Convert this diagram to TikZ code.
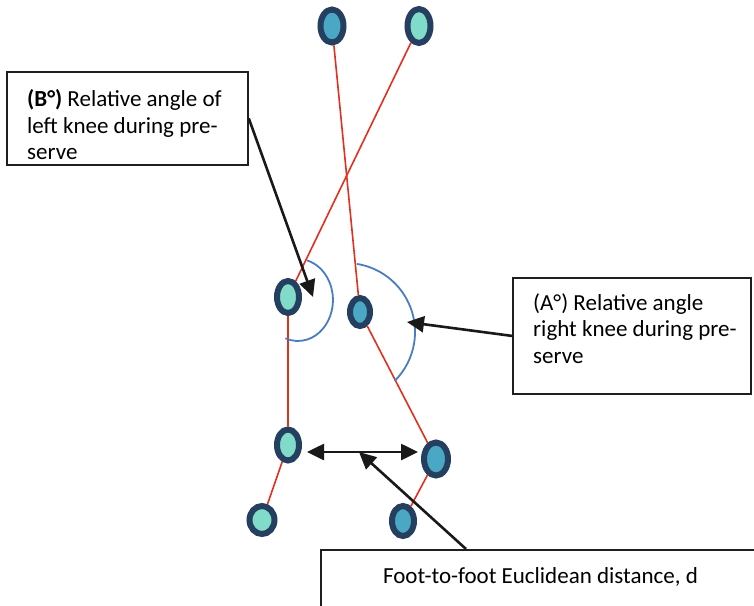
\documentclass[tikz,border=0pt]{standalone}
\usepackage{fontspec}
\setmainfont{Carlito}
\usetikzlibrary{arrows.meta, positioning, shapes.geometric}

\definecolor{jointring}{HTML}{253F61}
\definecolor{leftfill}{HTML}{80DCC8}
\definecolor{rightfill}{HTML}{4AA8C4}
\definecolor{limbred}{HTML}{E2301F}
\definecolor{arcblue}{HTML}{4A7CC0}

\begin{document}
\begin{tikzpicture}[
    x=1pt, y=-1pt,
    >={Triangle[length=17pt, width=16pt]},
    joint/.style={ellipse, draw=jointring, line width=6pt, inner sep=0pt,
        minimum width=22pt, minimum height=32pt},
    leftjoint/.style={joint, fill=leftfill},
    rightjoint/.style={joint, fill=rightfill},
    limb/.style={draw=limbred, line width=1.6pt},
    anglearc/.style={draw=arcblue, line width=1.8pt},
    pointer/.style={->, line width=2.6pt, black!90},
    textbox/.style={rectangle, draw=black!88, line width=1.8pt, inner sep=0pt},
    boxtext/.style={align=left, inner sep=0pt, font=\fontsize{23}{26.4}\selectfont}
]

    \clip (0,0) rectangle (754,605);

    % Joints ------------------------------------------------------

    \node[rightjoint, minimum width=23pt, minimum height=33pt] (hipR) at (332,26) {};
    \node[leftjoint, minimum width=23pt, minimum height=34pt] (hipL) at (419,26) {};
    \node[leftjoint] (kneeL) at (288,297) {};
    \node[rightjoint, minimum width=20pt, minimum height=28pt] (kneeR) at (360,312) {};
    \node[leftjoint, minimum height=31pt] (ankleL) at (288,445) {};
    \node[rightjoint, minimum width=24pt, minimum height=33pt] (ankleR) at (436,459) {};
    \node[leftjoint, minimum width=25pt, minimum height=28pt] (toeL) at (262,520) {};
    \node[rightjoint, minimum height=30pt] (toeR) at (403,521) {};

    % Limbs ------------------------------------------------------

    \draw[limb] (hipR) -- (kneeR) -- (ankleR) -- (toeR);
    \draw[limb] (hipL) -- (kneeL) -- (ankleL) -- (toeL);

    % angles
    \draw[anglearc] (307,260.4) arc[start angle=75, end angle=-111, x radius=35pt, y radius=41pt];
    \draw[anglearc] (356.8,263.9) arc[start angle=81, end angle=-45, radius=69pt];

    % Boxes ------------------------------------------------------

    \node[textbox, anchor=north west, minimum width=241pt, minimum height=93pt] (boxB) at (6,71) {};
    \node[boxtext, anchor=base west] (textB) at (27,159.5)
        {\textbf{(B°)} Relative angle of\\left knee during pre-\\serve};

    \node[textbox, anchor=north west, minimum width=238pt, minimum height=116pt] (boxA) at (512,277) {};
    \node[boxtext, anchor=base west] (textA) at (533,363)
        {(A°) Relative angle\\right knee during pre-\\serve};

    \node[textbox, anchor=north west, minimum width=470pt, minimum height=90pt] (boxD) at (320,549) {};
    \node[boxtext, anchor=base] (textD) at (540.5,583) {Foot-to-foot Euclidean distance, d};

    % Arrows ---------------------------------------------------

    \coordinate (tipB) at (313,297);
    \coordinate (tipA) at (407,322);
    \coordinate (tipD) at (359,452);
    \coordinate (gapL) at (307,452);
    \coordinate (gapR) at (418,452);

    \draw[pointer] (boxB.east) -- (tipB);
    \draw[pointer] (boxA.west) -- (tipA);
    \draw[pointer, <->] (gapL) -- (gapR);
    \draw[pointer] ([xshift=146pt]boxD.north west) -- (tipD);

\end{tikzpicture}
\end{document}
